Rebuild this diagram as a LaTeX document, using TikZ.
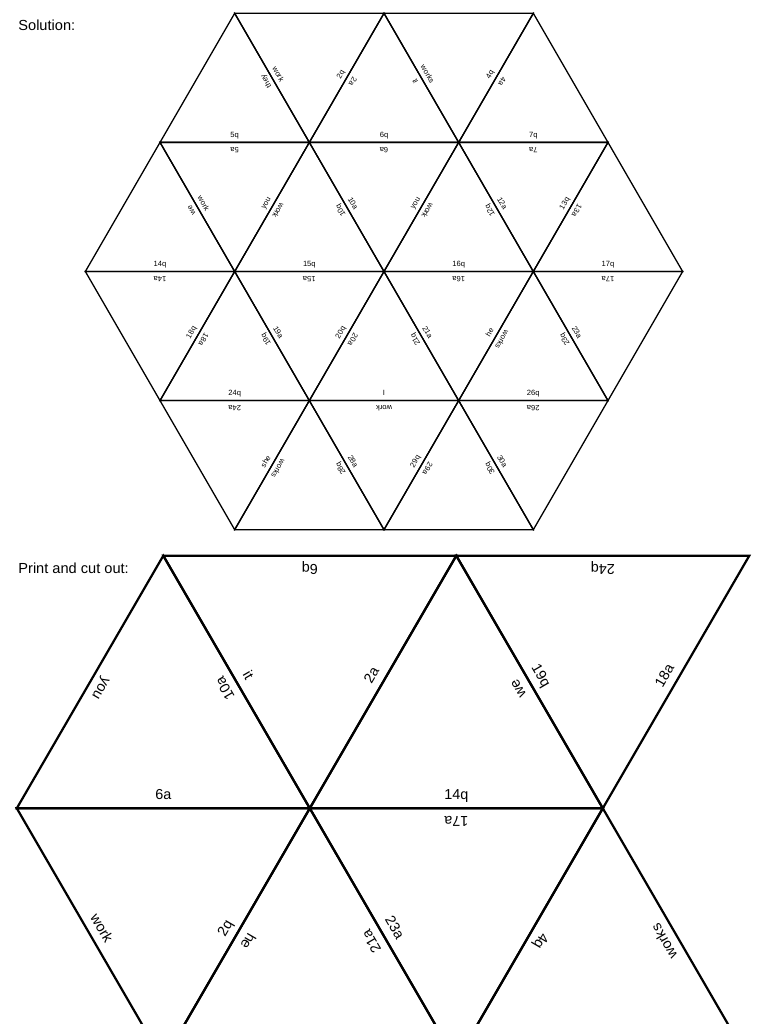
\documentclass[tikz,border=0pt]{standalone}
\usepackage{fontspec}
\setmainfont{Liberation Sans}
\begin{document}
\begin{tikzpicture}[%
            x=0.5pt, y=0.5pt,
            soltri/.style={line width=0.65pt},
            cuttri/.style={line width=1.1pt},
            sollab/.style={sloped, allow upside down, above=2pt, inner sep=0pt, text depth=0pt, font=\fontsize{3.8}{4}\selectfont},
            cutlab/.style={sloped, allow upside down, above=3.8pt, inner sep=0pt, text depth=0pt, font=\fontsize{7.2}{8}\selectfont},
            heading/.style={anchor=base west, inner sep=0pt, font=\fontsize{7.3}{9}\selectfont}
    ]
        \useasboundingbox (0,0) rectangle (768,1024);
        \clip (0,0) rectangle (768,1024);

        \path (18,993) node [heading] (solhead) {Solution:};
        \path (18,450.7) node [heading] (cuthead) {Print and cut out:};

        \begin{scope}[shift={(384,752.5)}]
        \begin{scope}[x=37.33pt, y=64.55pt]
            \draw [soltri] (-3,1) -- node [sollab] {5q} (-1,1) -- node [sollab] {they} (-2,2) -- cycle;
            \draw [soltri] (-2,2) -- node [sollab] {work} (-1,1) -- node [sollab] {2q} (0,2) -- cycle;
            \draw [soltri] (-1,1) -- node [sollab] {6q} (1,1) -- node [sollab] {it} (0,2) -- node [sollab] {2a} cycle;
            \draw [soltri] (0,2) -- node [sollab] {works} (1,1) -- node [sollab] {4q} (2,2) -- cycle;
            \draw [soltri] (1,1) -- node [sollab] {7q} (3,1) -- (2,2) -- node [sollab] {4a} cycle;

            \draw [soltri] (-4,0) -- node [sollab] {14q} (-2,0) -- node [sollab] {we} (-3,1) -- cycle;
            \draw [soltri] (-3,1) -- node [sollab] {work} (-2,0) -- node [sollab] {you} (-1,1) -- node [sollab] {5a} cycle;
            \draw [soltri] (-2,0) -- node [sollab] {15q} (0,0) -- node [sollab] {10q} (-1,1) -- node [sollab] {work} cycle;
            \draw [soltri] (-1,1) -- node [sollab] {10a} (0,0) -- node [sollab] {you} (1,1) -- node [sollab] {6a} cycle;
            \draw [soltri] (0,0) -- node [sollab] {16q} (2,0) -- node [sollab] {12q} (1,1) -- node [sollab] {work} cycle;
            \draw [soltri] (1,1) -- node [sollab] {12a} (2,0) -- node [sollab] {13q} (3,1) -- node [sollab] {7a} cycle;
            \draw [soltri] (2,0) -- node [sollab] {17q} (4,0) -- (3,1) -- node [sollab] {13a} cycle;

            \draw [soltri] (-4,0) -- (-3,-1) -- node [sollab] {18q} (-2,0) -- node [sollab] {14a} cycle;
            \draw [soltri] (-3,-1) -- node [sollab] {24q} (-1,-1) -- node [sollab] {19q} (-2,0) -- node [sollab] {18a} cycle;
            \draw [soltri] (-2,0) -- node [sollab] {19a} (-1,-1) -- node [sollab] {20q} (0,0) -- node [sollab] {15a} cycle;
            \draw [soltri] (-1,-1) -- node [sollab] {I} (1,-1) -- node [sollab] {21q} (0,0) -- node [sollab] {20a} cycle;
            \draw [soltri] (0,0) -- node [sollab] {21a} (1,-1) -- node [sollab] {he} (2,0) -- node [sollab] {16a} cycle;
            \draw [soltri] (1,-1) -- node [sollab] {26q} (3,-1) -- node [sollab] {23q} (2,0) -- node [sollab] {works} cycle;
            \draw [soltri] (2,0) -- node [sollab] {23a} (3,-1) -- (4,0) -- node [sollab] {17a} cycle;

            \draw [soltri] (-3,-1) -- (-2,-2) -- node [sollab] {she} (-1,-1) -- node [sollab] {24a} cycle;
            \draw [soltri] (-2,-2) -- (0,-2) -- node [sollab] {28q} (-1,-1) -- node [sollab] {works} cycle;
            \draw [soltri] (-1,-1) -- node [sollab] {28a} (0,-2) -- node [sollab] {29q} (1,-1) -- node [sollab] {work} cycle;
            \draw [soltri] (0,-2) -- (2,-2) -- node [sollab] {30q} (1,-1) -- node [sollab] {29a} cycle;
            \draw [soltri] (1,-1) -- node [sollab] {30a} (2,-2) -- (3,-1) -- node [sollab] {26a} cycle;
        \end{scope}
        \end{scope}

        \begin{scope}[shift={(163.3,468.3)}]
        \begin{scope}[x=73.25pt, y=126.3pt]
            \draw [cuttri] (-1,-1) -- node [cutlab] {6a} (1,-1) -- node [cutlab] {10a} (0,0) -- node [cutlab] {you} cycle;
            \draw [cuttri] (0,0) -- node [cutlab] {it} (1,-1) -- node [cutlab] {2a} (2,0) -- node [cutlab] {6q} cycle;
            \draw [cuttri] (1,-1) -- node [cutlab] {14q} (3,-1) -- node [cutlab] {we} (2,0) -- cycle;
            \draw [cuttri] (2,0) -- node [cutlab] {19q} (3,-1) -- node [cutlab] {18a} (4,0) -- node [cutlab] {24q} cycle;

            \draw [cuttri] (-1,-1) -- node [cutlab] {work} (0,-2) -- node [cutlab] {2q} (1,-1) -- cycle;
            \draw [cuttri] (0,-2) -- (2,-2) -- node [cutlab] {21a} (1,-1) -- node [cutlab] {he} cycle;
            \draw [cuttri] (1,-1) -- node [cutlab] {23a} (2,-2) -- (3,-1) -- node [cutlab] {17a} cycle;
            \draw [cuttri] (2,-2) -- (4,-2) -- node [cutlab] {works} (3,-1) -- node [cutlab] {4q} cycle;
        \end{scope}
        \end{scope}
    \end{tikzpicture}
\end{document}
